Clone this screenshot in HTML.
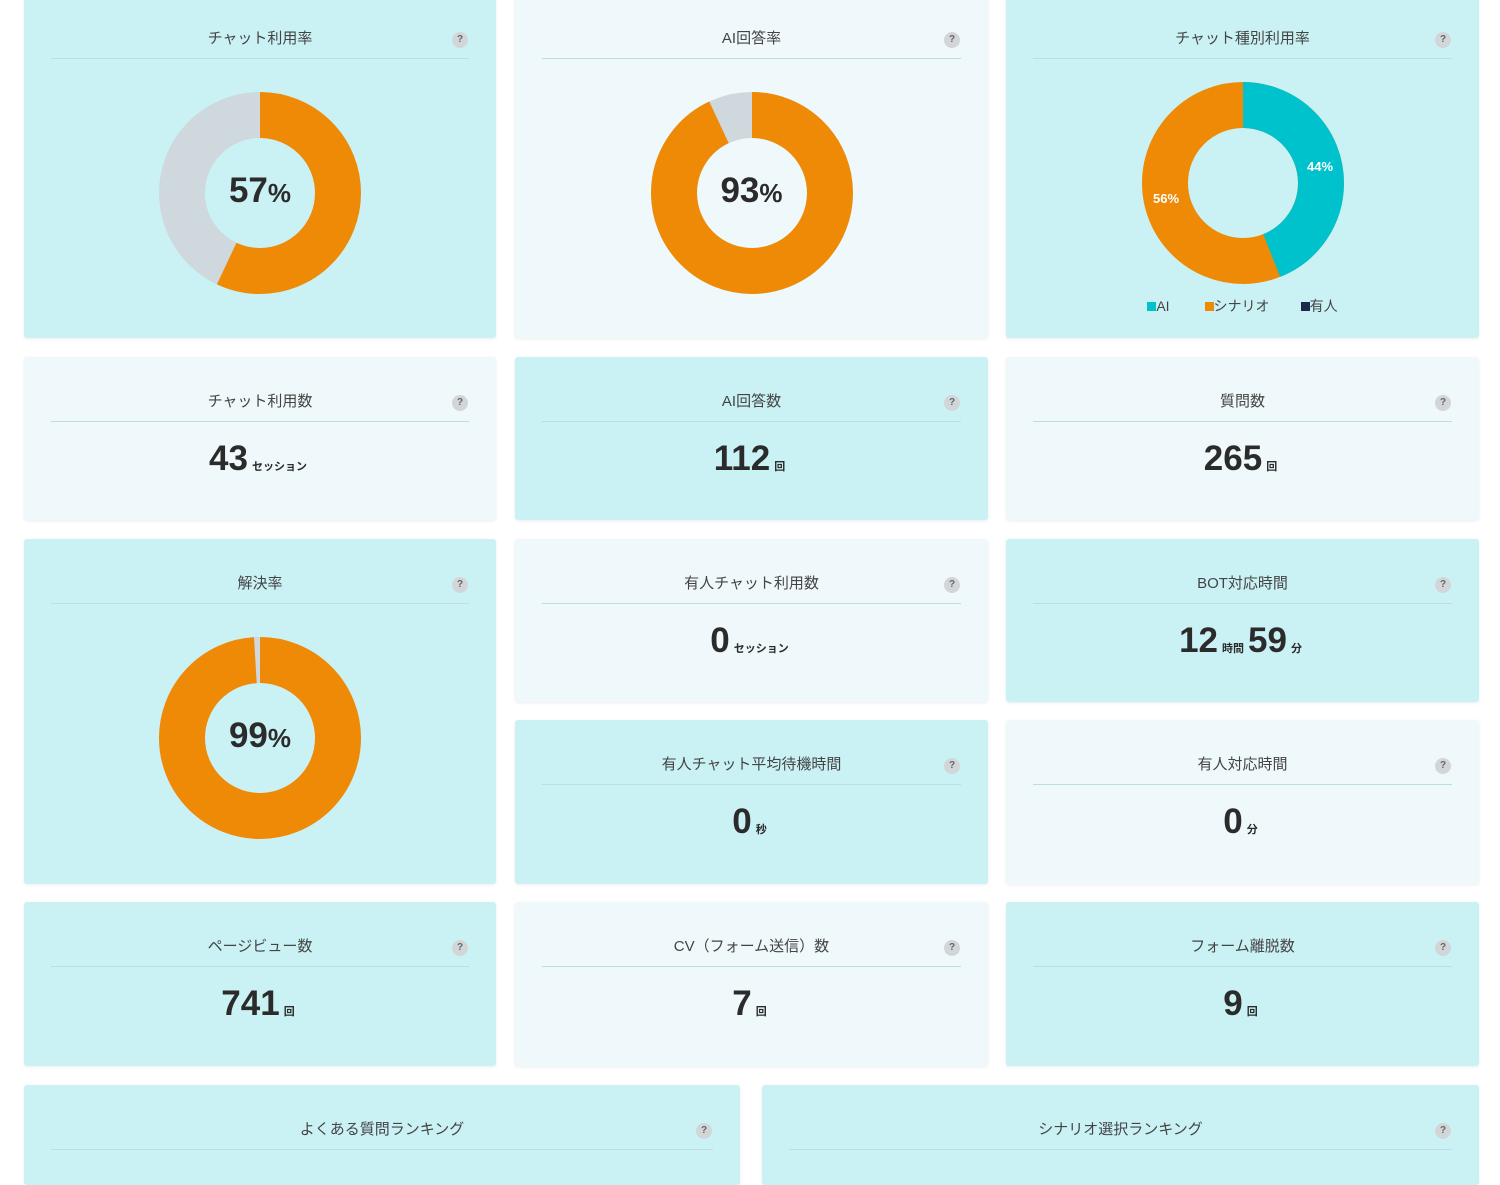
<!DOCTYPE html>
<html><head><meta charset="utf-8"><style>
body{margin:0;width:1500px;height:1162px;background:#fff;position:relative;overflow:hidden;font-family:"Liberation Sans","Noto Sans CJK JP",sans-serif;color:#333}
.c{position:absolute;border-radius:3px;box-shadow:0 1px 3px rgba(0,0,0,.08)}
.cy{background:#caf2f5}.pl{background:#eff9fb}
.t{position:absolute;left:0;right:0;top:35px;text-align:center;font-size:15px;color:#444;line-height:20px}
.ln{position:absolute;left:27px;right:27px;top:64px;height:1px;background:#b9dfe4}
.h{position:absolute;right:28px;top:38px;width:16px;height:16px;border-radius:50%;background:#d2d6d9;color:#666;font-size:10px;text-align:center;line-height:16px;font-weight:bold}
.n{position:absolute;left:0;right:0;top:82px;text-align:center;font-weight:bold;font-size:35px;color:#2b2b2b;line-height:40px}
.n small{font-size:11px;margin:0 4px}
.d{position:absolute;left:50%;margin-left:-101px;width:202px;height:202px}
.pc{position:absolute;left:0;right:0;text-align:center;font-weight:bold;font-size:35px;color:#2b2b2b}
.pc span{font-size:26px}
</style></head><body>

<div class="c cy" style="left:24px;top:-6px;width:472px;height:344px">
<div class="t">チャット利用率</div><div class="ln"></div><div class="h">?</div>
<svg class="d" style="top:98px" viewBox="0 0 202 202"><circle cx="101" cy="101" r="78" fill="none" stroke="#cfd8dc" stroke-width="46"/><circle cx="101" cy="101" r="78" fill="none" stroke="#ef8a07" stroke-width="46" stroke-dasharray="279.35 490.09" transform="rotate(-90 101 101)"/></svg>
<div class="pc" style="top:177px">57<span>%</span></div></div>

<div class="c pl" style="left:515px;top:-6px;width:473px;height:344px">
<div class="t">AI回答率</div><div class="ln"></div><div class="h">?</div>
<svg class="d" style="top:98px" viewBox="0 0 202 202"><circle cx="101" cy="101" r="78" fill="none" stroke="#cfd8dc" stroke-width="46"/><circle cx="101" cy="101" r="78" fill="none" stroke="#ef8a07" stroke-width="46" stroke-dasharray="455.8 490.09" transform="rotate(-90 101 101)"/></svg>
<div class="pc" style="top:177px">93<span>%</span></div></div>

<div class="c cy" style="left:1006px;top:-6px;width:473px;height:344px">
<div class="t">チャット種別利用率</div><div class="ln"></div><div class="h">?</div>
<svg class="d" style="top:88px" viewBox="0 0 202 202"><circle cx="101" cy="101" r="78" fill="none" stroke="#ef8a07" stroke-width="46"/><circle cx="101" cy="101" r="78" fill="none" stroke="#00c2cc" stroke-width="46" stroke-dasharray="215.6 490.09" transform="rotate(-90 101 101)"/>
<text x="178" y="89" fill="#fff" font-size="13" font-weight="bold" text-anchor="middle" font-family="Liberation Sans">44%</text>
<text x="24" y="121" fill="#fff" font-size="13" font-weight="bold" text-anchor="middle" font-family="Liberation Sans">56%</text></svg>
<div style="position:absolute;top:302px;left:0;right:0;text-align:center;font-size:14px;color:#444">
<span style="display:inline-block;width:9px;height:9px;background:#00c2cc"></span>AI&nbsp;&nbsp;&nbsp;&nbsp;&nbsp;&nbsp;&nbsp;&nbsp;&nbsp;<span style="display:inline-block;width:9px;height:9px;background:#ef8a07"></span>シナリオ&nbsp;&nbsp;&nbsp;&nbsp;&nbsp;&nbsp;&nbsp;&nbsp;<span style="display:inline-block;width:9px;height:9px;background:#1c2b4a"></span>有人</div></div>

<div class="c pl" style="left:24px;top:357px;width:472px;height:163px"><div class="t">チャット利用数</div><div class="ln"></div><div class="h">?</div><div class="n">43<small>セッション</small></div></div>
<div class="c cy" style="left:515px;top:357px;width:473px;height:163px"><div class="t">AI回答数</div><div class="ln"></div><div class="h">?</div><div class="n">112<small>回</small></div></div>
<div class="c pl" style="left:1006px;top:357px;width:473px;height:163px"><div class="t">質問数</div><div class="ln"></div><div class="h">?</div><div class="n">265<small>回</small></div></div>

<div class="c cy" style="left:24px;top:539px;width:472px;height:345px">
<div class="t">解決率</div><div class="ln"></div><div class="h">?</div>
<svg class="d" style="top:98px" viewBox="0 0 202 202"><circle cx="101" cy="101" r="78" fill="none" stroke="#cfd8dc" stroke-width="46"/><circle cx="101" cy="101" r="78" fill="none" stroke="#ef8a07" stroke-width="46" stroke-dasharray="485.2 490.09" transform="rotate(-90 101 101)"/></svg>
<div class="pc" style="top:177px">99<span>%</span></div></div>
<div class="c pl" style="left:515px;top:539px;width:473px;height:163px"><div class="t">有人チャット利用数</div><div class="ln"></div><div class="h">?</div><div class="n">0<small>セッション</small></div></div>
<div class="c cy" style="left:1006px;top:539px;width:473px;height:163px"><div class="t">BOT対応時間</div><div class="ln"></div><div class="h">?</div><div class="n">12<small>時間</small>59<small>分</small></div></div>

<div class="c cy" style="left:515px;top:720px;width:473px;height:164px"><div class="t">有人チャット平均待機時間</div><div class="ln"></div><div class="h">?</div><div class="n">0<small>秒</small></div></div>
<div class="c pl" style="left:1006px;top:720px;width:473px;height:164px"><div class="t">有人対応時間</div><div class="ln"></div><div class="h">?</div><div class="n">0<small>分</small></div></div>

<div class="c cy" style="left:24px;top:902px;width:472px;height:164px"><div class="t">ページビュー数</div><div class="ln"></div><div class="h">?</div><div class="n">741<small>回</small></div></div>
<div class="c pl" style="left:515px;top:902px;width:473px;height:164px"><div class="t">CV（フォーム送信）数</div><div class="ln"></div><div class="h">?</div><div class="n">7<small>回</small></div></div>
<div class="c cy" style="left:1006px;top:902px;width:473px;height:164px"><div class="t">フォーム離脱数</div><div class="ln"></div><div class="h">?</div><div class="n">9<small>回</small></div></div>

<div class="c cy" style="left:24px;top:1085px;width:716px;height:100px"><div class="t">よくある質問ランキング</div><div class="ln"></div><div class="h">?</div></div>
<div class="c cy" style="left:762px;top:1085px;width:717px;height:100px"><div class="t">シナリオ選択ランキング</div><div class="ln"></div><div class="h">?</div></div>
</body></html>
